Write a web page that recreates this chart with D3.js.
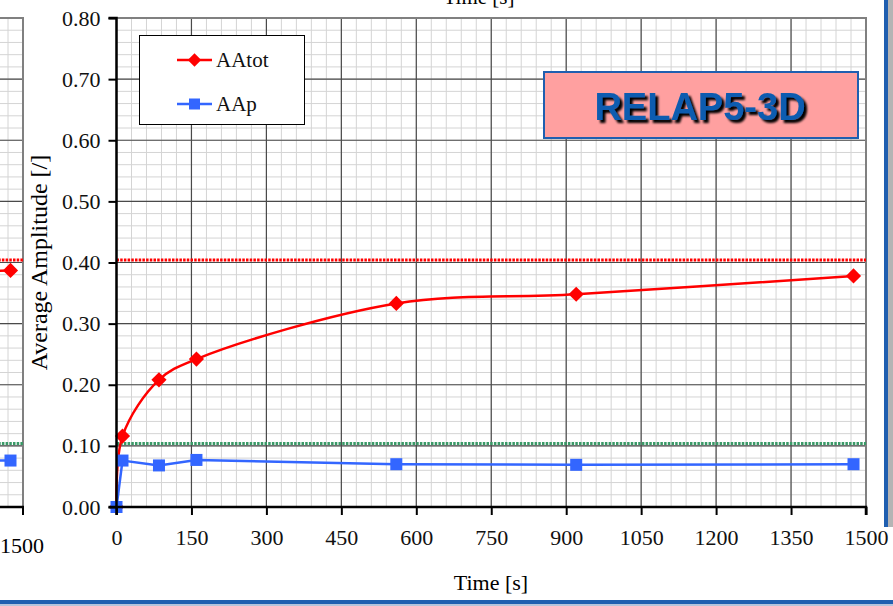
<!DOCTYPE html>
<html>
<head>
<meta charset="utf-8">
<script src="https://cdn.jsdelivr.net/npm/d3@7"></script>
<style>
  html, body { margin: 0; padding: 0; background: #fff; }
  svg { display: block; }
</style>
</head>
<body>
<svg id="chart" width="893" height="606"></svg>
<script>
// Average amplitude vs time, RELAP5-3D run
const times      = [0, 12, 85, 160, 560, 920, 1475];
const aaTot      = [0, 0.116, 0.208, 0.242, 0.333, 0.348, 0.378];
const aaP        = [0, 0.076, 0.068, 0.077, 0.070, 0.069, 0.070];
const seriesNames = ["AAtot", "AAp"];
const limitLines  = [0.404, 0.104];

// Tail of the neighbouring panel on the left
const prevTimes = [920, 1475];
const prevTot   = [0.372, 0.387];
const prevP     = [0.076, 0.076];

const xTicks = d3.range(0, 1501, 150);
const yTicks = d3.range(0, 0.801, 0.1);
const xMinor = d3.range(0, 1501, 30);
const yMinor = d3.range(0, 0.801, 0.02);

const svg = d3.select("#chart");
const serif = "'Liberation Serif', 'Times New Roman', serif";

const x = d3.scaleLinear().domain([0, 1500]).range([116.5, 866]);
const y = d3.scaleLinear().domain([0, 0.8]).range([507, 18]);
const xPrev = d3.scaleLinear().domain([0, 1500]).range([-727, 23]);

const RED = "#ff0000", BLUE = "#3366ff", GREEN = "#3a9a68";
const diamond = d3.symbol(d3.symbolSquare, 115);

// Draw one plot panel's grid, limit lines and series
function panel(g, xs, tArr, totArr, pArr, curveTot) {
  g.append("g").selectAll("line").data(xMinor).join("line")
    .attr("x1", d => xs(d)).attr("x2", d => xs(d))
    .attr("y1", y(0)).attr("y2", y(0.8))
    .attr("stroke", "#d4d4d4").attr("stroke-width", 1);
  g.append("g").selectAll("line").data(yMinor).join("line")
    .attr("x1", xs(0)).attr("x2", xs(1500))
    .attr("y1", d => y(d)).attr("y2", d => y(d))
    .attr("stroke", "#d4d4d4").attr("stroke-width", 1);
  g.append("g").selectAll("line").data(xTicks).join("line")
    .attr("x1", d => xs(d)).attr("x2", d => xs(d))
    .attr("y1", y(0)).attr("y2", y(0.8))
    .attr("stroke", "#4a4a4a").attr("stroke-width", 1.2);
  g.append("g").selectAll("line").data(yTicks).join("line")
    .attr("x1", xs(0)).attr("x2", xs(1500))
    .attr("y1", d => y(d)).attr("y2", d => y(d))
    .attr("stroke", "#4a4a4a").attr("stroke-width", 1.2);
  // frame (top and right)
  g.append("path")
    .attr("d", `M${xs(0)},${y(0.8)}H${xs(1500)}V${y(0)}`)
    .attr("fill", "none").attr("stroke", "#808080").attr("stroke-width", 2);

  // limit lines
  limitLines.forEach((v, i) => {
    g.append("line")
      .attr("x1", xs(0)).attr("x2", xs(1500))
      .attr("y1", y(v)).attr("y2", y(v))
      .attr("stroke", i === 0 ? RED : GREEN)
      .attr("stroke-width", 3)
      .attr("stroke-dasharray", "2.5,1.2");
  });

  const lineTot = d3.line().x(d => xs(d[0])).y(d => y(d[1])).curve(curveTot);
  const lineP = d3.line().x(d => xs(d[0])).y(d => y(d[1])).curve(d3.curveLinear);
  const dTot = tArr.map((t, i) => [t, totArr[i]]);
  const dP = tArr.map((t, i) => [t, pArr[i]]);

  g.append("path").datum(dTot).attr("d", lineTot)
    .attr("fill", "none").attr("stroke", RED).attr("stroke-width", 2.5);
  g.append("g").selectAll("path").data(dTot).join("path")
    .attr("d", diamond)
    .attr("transform", d => `translate(${xs(d[0])},${y(d[1])}) rotate(45)`)
    .attr("fill", RED);

  g.append("path").datum(dP).attr("d", lineP)
    .attr("fill", "none").attr("stroke", BLUE).attr("stroke-width", 2.5);
  g.append("g").selectAll("rect").data(dP).join("rect")
    .attr("x", d => xs(d[0]) - 6).attr("y", d => y(d[1]) - 6)
    .attr("width", 12).attr("height", 12).attr("fill", BLUE);
}

// Left neighbour panel, clipped
svg.append("clipPath").attr("id", "clipPrev")
  .append("rect").attr("x", 0).attr("y", 0).attr("width", 24).attr("height", 520);
const gPrev = svg.append("g").attr("clip-path", "url(#clipPrev)");
panel(gPrev, xPrev, prevTimes, prevTot, prevP, d3.curveCatmullRom.alpha(0.5));
gPrev.append("line").attr("x1", 0).attr("x2", xPrev(1500) + 1)
  .attr("y1", y(0)).attr("y2", y(0)).attr("stroke", "#000").attr("stroke-width", 2.5);
gPrev.append("line").attr("x1", xPrev(1500)).attr("x2", xPrev(1500))
  .attr("y1", y(0)).attr("y2", y(0) + 8).attr("stroke", "#000").attr("stroke-width", 2);
svg.append("text").attr("x", xPrev(1500) - 1).attr("y", 553)
  .attr("text-anchor", "middle").attr("font-family", serif).attr("font-size", 22)
  .text("1500");

// Main panel
const gMain = svg.append("g");
panel(gMain, x, times, aaTot, aaP, d3.curveCatmullRom.alpha(0.5));

// Axes
const xAxis = d3.axisBottom(x).tickValues(xTicks).tickSize(8).tickPadding(14)
  .tickFormat(d3.format("d"));
const gx = svg.append("g").attr("transform", `translate(0,${y(0)})`).call(xAxis);
const yAxis = d3.axisLeft(y).tickValues(yTicks).tickSize(8).tickPadding(8)
  .tickFormat(d3.format(".2f"));
const gy = svg.append("g").attr("transform", `translate(${x(0)},0)`).call(yAxis);
[gx, gy].forEach(g => {
  g.select(".domain").attr("stroke", "#000").attr("stroke-width", 2.5);
  g.selectAll(".tick line").attr("stroke", "#000").attr("stroke-width", 2);
  g.selectAll("text").attr("font-family", serif).attr("font-size", 22).attr("fill", "#111");
});
gx.select(".domain").attr("d", `M${x(0)},8V0H${x(1500)}V8`);
gy.select(".domain").attr("d", `M-8,${y(0.8)}H0V${y(0)}H-8`);

// Axis titles
svg.append("text").attr("x", 491).attr("y", 590)
  .attr("text-anchor", "middle").attr("font-family", serif).attr("font-size", 22)
  .text("Time [s]");
svg.append("text")
  .attr("transform", `translate(47,${(y(0) + y(0.8)) / 2}) rotate(-90)`)
  .attr("text-anchor", "middle").attr("font-family", serif).attr("font-size", 24)
  .text("Average Amplitude [/]");
// axis title of the panel above, cut at the top edge
svg.append("text").attr("x", 479).attr("y", 4)
  .attr("text-anchor", "middle").attr("font-family", serif).attr("font-size", 21)
  .text("Time [s]");

// Legend
const leg = svg.append("g");
leg.append("rect").attr("x", 139.5).attr("y", 35.5).attr("width", 165).attr("height", 89)
  .attr("fill", "#fff").attr("stroke", "#000").attr("stroke-width", 1);
const legRows = [60, 104];
seriesNames.forEach((name, i) => {
  const ly = legRows[i];
  const col = i === 0 ? RED : BLUE;
  leg.append("line").attr("x1", 177).attr("x2", 212).attr("y1", ly).attr("y2", ly)
    .attr("stroke", col).attr("stroke-width", 2.5);
  if (i === 0) {
    leg.append("path").attr("d", d3.symbol(d3.symbolSquare, 90))
      .attr("transform", `translate(194.5,${ly}) rotate(45)`).attr("fill", col);
  } else {
    leg.append("rect").attr("x", 189).attr("y", ly - 5.5).attr("width", 11).attr("height", 11)
      .attr("fill", col);
  }
  leg.append("text").attr("x", 216).attr("y", ly + 7)
    .attr("font-family", serif).attr("font-size", 21).attr("fill", "#111")
    .text(name);
});

// Code label box
const defs = svg.append("defs");
const f = defs.append("filter").attr("id", "shadow").attr("x", "-10%").attr("y", "-20%")
  .attr("width", "130%").attr("height", "150%");
f.append("feGaussianBlur").attr("in", "SourceAlpha").attr("stdDeviation", 1.2).attr("result", "b");
f.append("feOffset").attr("in", "b").attr("dx", 2.5).attr("dy", 2.5).attr("result", "o");
const m = f.append("feMerge");
m.append("feMergeNode").attr("in", "o");
m.append("feMergeNode").attr("in", "SourceGraphic");

svg.append("rect").attr("x", 544).attr("y", 72).attr("width", 314).attr("height", 66)
  .attr("fill", "#ffa0a0").attr("stroke", "#1f5fb0").attr("stroke-width", 2);
svg.append("text").attr("x", 700).attr("y", 120)
  .attr("text-anchor", "middle")
  .attr("font-family", "'Liberation Sans', Arial, sans-serif").attr("font-weight", "bold")
  .attr("font-size", 38).attr("fill", "#0b5cb0").attr("filter", "url(#shadow)")
  .text("RELAP5-3D");

// Slide frame pieces
svg.append("rect").attr("x", 884).attr("y", 0).attr("width", 4).attr("height", 527)
  .attr("fill", "#1f5fb0");
svg.append("rect").attr("x", 888).attr("y", 0).attr("width", 5).attr("height", 527)
  .attr("fill", "#b4b4b4");
svg.append("rect").attr("x", 0).attr("y", 600).attr("width", 893).attr("height", 4)
  .attr("fill", "#1f5fb0");
svg.append("rect").attr("x", 0).attr("y", 604).attr("width", 893).attr("height", 2)
  .attr("fill", "#b4c4dc");
</script>
</body>
</html>
